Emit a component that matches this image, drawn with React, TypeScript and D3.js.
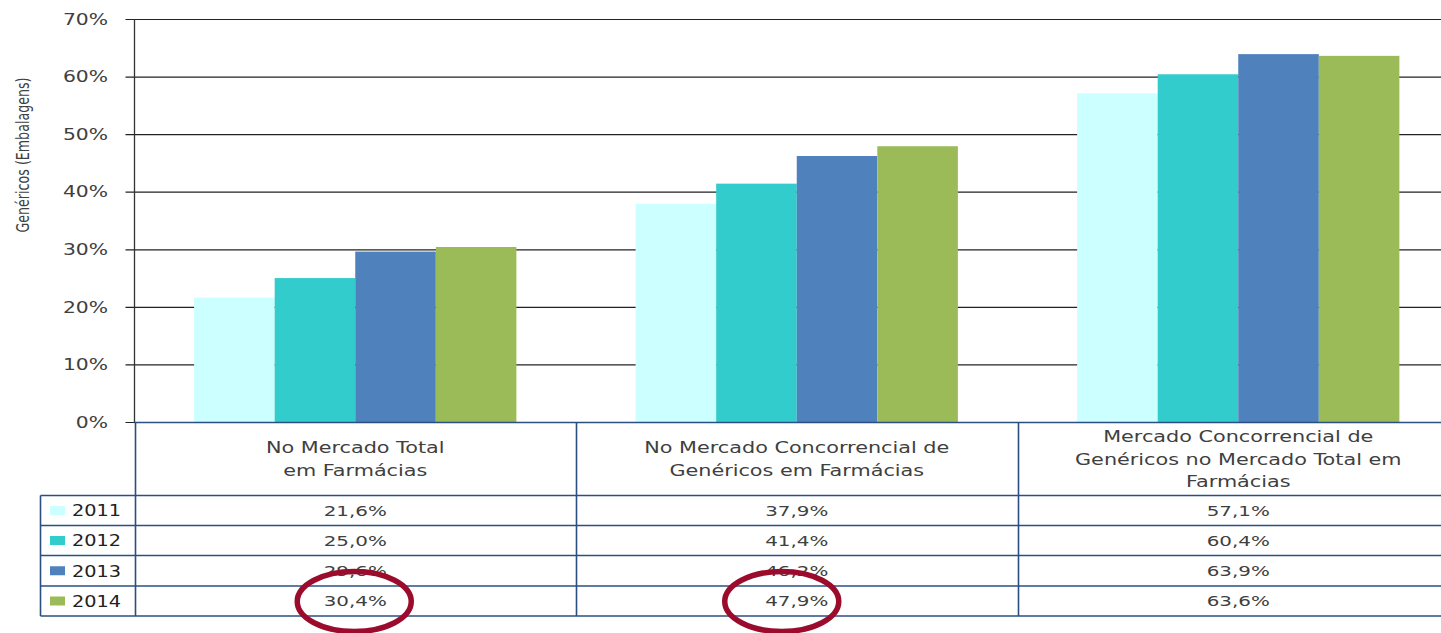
import { useEffect, useRef } from 'react';
import * as d3 from 'd3';

const categories = [
    ['No Mercado Total', 'em Farmácias'],
    ['No Mercado Concorrencial de', 'Genéricos em Farmácias'],
    ['Mercado Concorrencial de', 'Genéricos no Mercado Total em', 'Farmácias'],
];
const years = ['2011', '2012', '2013', '2014'];
const values2011 = [21.6, 37.9, 57.1];
const values2012 = [25.0, 41.4, 60.4];
const values2013 = [29.6, 46.2, 63.9];
const values2014 = [30.4, 47.9, 63.6];
const yTicks = [0, 10, 20, 30, 40, 50, 60, 70];
// cells circled in red in the original
const circled = [
    { cat: 0, year: 3 },
    { cat: 1, year: 3 },
];

const series = [values2011, values2012, values2013, values2014];
const colors = ['#CCFFFF', '#33CCCC', '#4F81BD', '#9BBB59'];

const App = () => {
    const svgRef = useRef<SVGSVGElement | null>(null);

    useEffect(() => {
        if (!svgRef.current) return;
        const svg = d3.select(svgRef.current);
        svg.selectAll('*').remove();

        const width = 1441;
        const height = 633;
        const left = 134.5;
        const tableLeft = 40.5;
        const lineColor = '#2a4f80';
        const textColor = '#404040';
        const font = 'DejaVu Sans, Verdana, sans-serif';

        // the source picture is stretched sideways, so text is too
        const addText = (
            tx: number,
            ty: number,
            str: string,
            size: number,
            sx: number,
            anchor = 'middle',
            fill = textColor
        ) =>
            svg
                .append('g')
                .attr('transform', `translate(${tx},${ty}) scale(${sx},1)`)
                .append('text')
                .attr('dy', '0.36em')
                .attr('text-anchor', anchor)
                .attr('fill', fill)
                .style('font-family', font)
                .style('font-size', `${size}px`)
                .text(str);

        const y = d3.scaleLinear().domain([0, 70]).range([422, 19]);
        const x = d3
            .scaleBand<number>()
            .domain(d3.range(categories.length))
            .range([left, left + 441.5 * categories.length]);
        const xi = d3
            .scaleBand<string>()
            .domain(years)
            .range([0, x.bandwidth()])
            .paddingInner(0)
            .paddingOuter(0.74);

        const rowTops = [495.5, 525.5, 555.5, 586, 616];

        // gridlines
        const axis = svg
            .append('g')
            .attr('transform', `translate(${left},0)`)
            .call(
                d3
                    .axisLeft(y)
                    .tickValues(yTicks)
                    .tickSize(-(width - left))
                    .tickFormat(() => '')
            );
        axis.select('.domain').remove();
        axis.selectAll('.tick line').attr('stroke', '#222').attr('stroke-width', 1.2).attr('x1', -9);

        // tick labels
        yTicks.forEach((t) => addText(108, y(t), `${t}%`, 16, 1.27, 'end'));

        // bars
        series.forEach((vals, si) => {
            svg
                .append('g')
                .selectAll('rect')
                .data(vals)
                .join('rect')
                .attr('x', (_, i) => (x(i) as number) + (xi(years[si]) as number))
                .attr('y', (d) => y(d))
                .attr('width', xi.bandwidth())
                .attr('height', (d) => y(0) - y(d))
                .attr('fill', colors[si]);
        });

        // y axis line
        svg
            .append('line')
            .attr('x1', left)
            .attr('x2', left)
            .attr('y1', 19)
            .attr('y2', 422)
            .attr('stroke', '#333')
            .attr('stroke-width', 1.3);

        // y title
        svg
            .append('g')
            .attr('transform', 'translate(29,155) scale(1.33,1) rotate(-90)')
            .append('text')
            .attr('text-anchor', 'middle')
            .attr('fill', textColor)
            .attr('textLength', 155)
            .attr('lengthAdjust', 'spacingAndGlyphs')
            .style('font-family', font)
            .style('font-size', '13px')
            .text('Genéricos (Embalagens)');

        // table lines
        const table = svg.append('g').attr('stroke', lineColor).attr('stroke-width', 1.6);
        table.append('line').attr('x1', left).attr('x2', width).attr('y1', 422.5).attr('y2', 422.5);
        rowTops.forEach((ry) => {
            table.append('line').attr('x1', tableLeft).attr('x2', width).attr('y1', ry).attr('y2', ry);
        });
        table
            .append('line')
            .attr('x1', tableLeft)
            .attr('x2', tableLeft)
            .attr('y1', rowTops[0])
            .attr('y2', rowTops[rowTops.length - 1]);
        d3.range(categories.length + 1).forEach((i) => {
            const cx = Math.round(left + x.step() * i) + 0.5;
            if (cx > width) return;
            table.append('line').attr('x1', cx).attr('x2', cx).attr('y1', 422.5).attr('y2', rowTops[rowTops.length - 1]);
        });

        // header labels
        categories.forEach((lines, ci) => {
            const cx = (x(ci) as number) + x.bandwidth() / 2;
            const lh = 22.5;
            const mid = 459;
            lines.forEach((ln, li) => {
                addText(cx, mid + (li - (lines.length - 1) / 2) * lh, ln, 15.5, 1.34);
            });
        });

        // rows: legend + values
        years.forEach((yr, si) => {
            const cy = (rowTops[si] + rowTops[si + 1]) / 2;
            svg
                .append('rect')
                .attr('x', 50)
                .attr('y', cy - 4.5)
                .attr('width', 15)
                .attr('height', 9)
                .attr('fill', colors[si]);
            addText(72, cy, yr, 16.5, 1.17, 'start', '#222');
            series[si].forEach((v, ci) => {
                addText(
                    (x(ci) as number) + x.bandwidth() / 2,
                    cy,
                    `${v.toFixed(1).replace('.', ',')}%`,
                    14.5,
                    1.37
                );
            });
        });

        // red annotation ellipses (hand drawn, slightly off centre in the second column)
        const ellipseShift = [-1, -15];
        circled.forEach((c, k) => {
            const cy = (rowTops[c.year] + rowTops[c.year + 1]) / 2 + 0.5;
            svg
                .append('ellipse')
                .attr('cx', (x(c.cat) as number) + x.bandwidth() / 2 + ellipseShift[k])
                .attr('cy', cy)
                .attr('rx', 57)
                .attr('ry', 30)
                .attr('fill', 'none')
                .attr('stroke', '#9B0B2C')
                .attr('stroke-width', 5.5);
        });
    }, []);

    return (
        <svg
            ref={svgRef}
            width={1441}
            height={633}
            style={{ position: 'absolute', left: 0, top: 0, background: '#fff' }}
        />
    );
};

export default App;
